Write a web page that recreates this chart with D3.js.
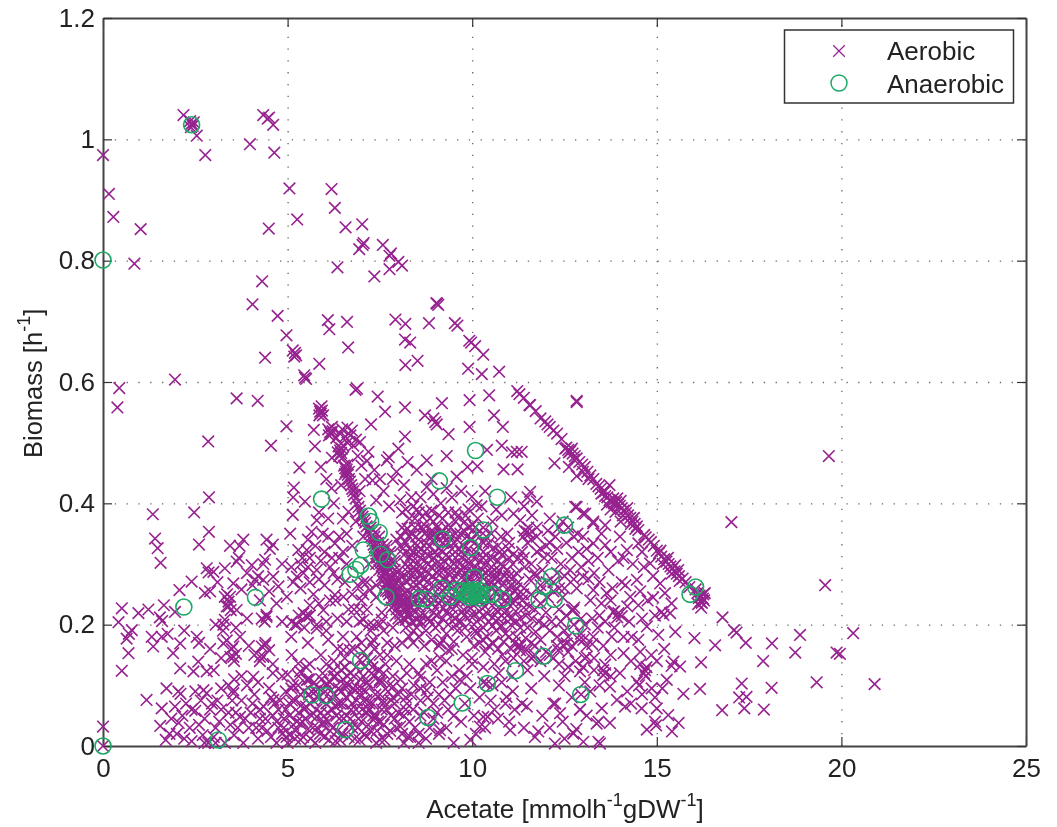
<!DOCTYPE html>
<html>
<head>
<meta charset="utf-8">
<script src="https://cdn.jsdelivr.net/npm/d3@7"></script>
<style>
  html, body { margin: 0; background: #fff; }
  svg { display: block; }
  text { font-family: "Liberation Sans", sans-serif; fill: #222; }
</style>
</head>
<body>
<div id="container"></div>
<script>
// values, [acetate, biomass]
const aerobicTop = [
  [2.18,1.04],[2.36,1.03],[2.4,1.026],[2.43,1.022],[2.46,1.028],[2.38,1.02],[2.54,1.006],[2.77,.974],[0,.974],[.16,.91],[.28,.872],
  [1.02,.852],[.85,.795],[3.98,.992],[4.34,1.04],[4.46,1.034],[4.5,1.036],[4.61,1.024],[4.64,.978],[5.05,.919],[5.26,.868],[4.49,.853],
  [6.19,.918],[6.28,.887],[6.57,.855],[7.02,.86],[7.06,.829],[7.03,.826],[6.94,.819],[7.58,.826],[7.8,.812],[7.76,.808],[8,.798],[8.1,.792],
  [7.76,.786],[7.35,.774],[6.35,.789],[4.31,.766],[4.05,.728],[4.73,.709],[4.97,.677],[5.14,.652],[5.2,.648],[5.23,.644],[5.18,.642],
  [4.39,.64],[6.09,.702],[6.13,.687],[6.61,.699],[6.64,.657],[5.86,.63],[5.45,.611],[5.47,.607],[5.5,.605],[7.92,.703],[8.19,.696],
  [8.18,.67],[8.32,.665],[8.19,.628],[8.52,.635],[8.83,.697],[9.03,.73],[9.05,.729],[9.08,.727],[9.53,.697],[9.6,.693],[9.92,.668],
  [9.97,.665],[10.08,.659],[10.3,.645],[9.89,.622],[10.26,.613],[10.73,.617],[1.95,.604]
];

const aerobicMiddle = [
  [.44,.59],[.39,.558],[3.62,.573],[4.19,.569],[6.84,.587],[6.88,.589],[7.44,.576],[7.64,.551],[8.18,.558],[4.97,.527],[2.85,.502],[4.55,.495],
  [5.71,.521],[5.74,.494],[5.32,.459],[5.17,.426],[5.15,.41],[5.47,.403],[5.14,.381],[2.87,.41],[1.35,.382],[2.47,.385],[1.41,.342],[1.48,.326],
  [1.56,.302],[2.87,.353],[2.6,.332],[3.44,.33],[3.8,.34],[3.7,.33],[4.43,.34],[4.6,.332],[4.52,.325],
  [8.72,.545],[9.18,.565],[9,.534],[8.95,.54],[9.04,.53],[9.36,.514],[9.93,.57],[10.46,.578],[11.28,.58],[11.57,.562],[12.83,.567],[10.59,.545],
  [10.83,.526],[9.93,.526],[7.26,.53],[8.18,.51],[8,.49],[9.31,.478],[7.69,.471],[7.74,.476],[8.77,.471],[10.8,.495],[10.4,.488],[11.21,.485],
  [11.08,.484],[11.34,.485],[9.87,.46],[10.14,.461],[10.85,.456],[11.23,.456],[12.23,.466],[12.83,.445],[6.96,.501],[7.19,.485],[6.74,.52],[8.5,.455],
  [8.77,.427],[8.9,.44],[9.58,.444],[9.31,.425],[9.99,.411],[10.12,.397],[11.57,.419],[11.5,.41],[11.75,.403],[12.83,.394],[13.06,.383],[13.28,.37],[13.6,.364],
  [11.12,.383],[11.3,.372],[11.48,.353],[5.9,.46],[6.2,.475],[6.05,.44],[6.45,.43],[7.1,.44],[7.35,.455],[7.6,.42],[7.85,.44],[8.15,.43],[8.35,.41],
  [6.95,.42],[6.25,.4],[5.85,.385],[6.1,.375],[7.4,.405],[7.75,.395],[8.05,.405],[8.5,.39],[8.75,.385],[9.15,.4],[9.55,.385],[9.8,.37],[10.35,.42],
  [10.65,.39],[10.95,.35],[11.75,.36],[12.1,.375],[12.45,.37],
  [6.32,.508],[6.4,.516],[6.48,.522],[6.56,.51],[6.62,.5],[6.7,.512],[6.78,.495],[6.5,.495],[6.62,.525],[6.85,.505],[6.9,.478],[7,.462],[7.15,.47],
  [7.3,.438],[7.5,.44],[7.95,.452],[8.25,.468],[8.6,.41],[8.95,.415],[9.45,.41],[9.7,.42],[9.9,.39],[10.25,.395],[10.55,.37],[10.8,.38],[11.05,.41],[11.4,.395],[11.62,.38]
];

const aerobicRidge = [
  [5.85,.556],[5.88,.551],[5.9,.548],[5.93,.553],[5.96,.545],[5.86,.545],[5.92,.56],[6.1,.522],[6.15,.517],[6.18,.514],[6.22,.519],[6.12,.512],[6.2,.526],[6.38,.494],[6.42,.487],[6.45,.483],[6.47,.49],
  [6.4,.478],[6.36,.484],[6.5,.476],[6.53,.462],[6.56,.458],[6.58,.452],[6.6,.456],[6.55,.448],[6.62,.464],[6.66,.452],[6.63,.447],[6.66,.44],[6.69,.436],[6.72,.43],[6.75,.424],[6.78,.42],[6.8,.414],[6.84,.408],[6.88,.4],
  [6.92,.394],[6.96,.388],[7,.382],[7.03,.378],[7.07,.372],[7.1,.368],[7.14,.362],[7.18,.355],[7.22,.35],[7.26,.345],[7.3,.338],[7.33,.332],[7.36,.328],
  [7.4,.322],[7.43,.318],[7.46,.312],[7.5,.307],[7.53,.302],[7.56,.298],[7.6,.292],[7.63,.287],[7.66,.283],[7.7,.278],[7.72,.272],[7.76,.268],[7.8,.262],
  [7.83,.258],[7.86,.252],[7.9,.248],[7.94,.242],[7.98,.238],[8.02,.232],[7.5,.32],[7.6,.31],[7.7,.295],[7.8,.28],[7.9,.265],[8,.25],[8.1,.24],[8.2,.23],
  [7.4,.3],[7.55,.28],[7.65,.265],[7.75,.25],[7.85,.24],[7.95,.225],[8.05,.218],[8.15,.225],[8.3,.24],[8.25,.255],[8.1,.265],[8,.275],[7.9,.29],[7.8,.305],
  [7.35,.345],[7.45,.335],[7.25,.36],[7.55,.315],[7.68,.3],[7.88,.272],[8.12,.25],[8.22,.242],[8.35,.228],[7.72,.255],[7.82,.228],[8,.21],
  [7.38,.352],[7.48,.345],[7.58,.332],[7.62,.322],[7.72,.312],[7.82,.296],[7.92,.282],[8.02,.264],[8.18,.252],[7.42,.31],[7.48,.29],[7.58,.272],[7.66,.256],[7.78,.24],[7.88,.232],[7.6,.3],[7.7,.285],
  [7.75,.27],[7.85,.265],[7.95,.255],[8.05,.245],[8.14,.236],[8.24,.225],[8.08,.23],[7.92,.215],[8.12,.21],[8.28,.215],[8.4,.235],[8.38,.25],[8.22,.27],[8.12,.28],[8.02,.29],[7.9,.305],[7.78,.32],[7.68,.33]
];

const aerobicDiagonal = [
  [11.22,.585],[11.4,.574],[11.55,.562],[11.72,.552],[11.85,.54],[11.98,.535],[12.04,.53],[12.1,.526],[12.2,.52],[12.3,.515],[12.42,.506],[12.55,.492],[12.6,.488],
  [12.66,.486],[12.72,.482],[12.78,.478],[12.83,.474],[12.9,.468],[12.98,.464],[13.05,.46],[13.12,.452],[13.2,.446],[13.28,.44],[13.36,.432],[13.42,.428],[13.48,.424],
  [13.55,.418],[13.6,.412],[13.66,.41],[13.72,.405],[13.78,.402],[13.84,.4],[13.9,.402],[13.95,.398],[14,.396],[14.05,.392],[14.1,.388],[14.16,.384],[14.22,.38],[14.28,.376],
  [14.34,.37],[14.4,.366],[14.46,.362],[14.78,.34],[14.84,.336],[14.92,.33],[15,.322],[15.06,.318],[15.12,.312],[15.2,.308],[15.26,.304],[15.32,.3],[15.37,.296],
  [15.42,.292],[15.48,.288],[15.54,.284],[15.6,.28],[15.7,.276],[15.78,.27],[15.88,.262],[16.1,.252],[16.16,.248],[16.2,.246],[16.25,.243],[16.28,.24],[16.3,.252],[16.22,.236],
  [16.14,.244],[16.2,.228],[12.62,.46],[13.72,.43],[14.02,.37],
  [12.52,.49],[12.62,.484],[12.7,.49],[12.76,.472],[13,.452],[13.15,.44],[13.5,.416],[13.6,.42],[13.65,.398],[13.75,.39],[13.82,.408],[13.88,.386],[13.93,.408],[14.02,.404],[14.08,.38],[14.2,.392],[14.3,.366],
  [14.38,.376],[14.42,.358],[14.5,.356],[14.66,.348],[14.7,.344],[15.1,.322],[15.16,.3],[15.3,.31],[15.4,.284],[15.5,.298],[15.58,.29],[15.62,.272],[16.05,.258],[16.18,.238],[16.26,.25],[16.12,.234]
];

const aerobicCore = [
  [8.2,.39],[8.45,.375],[8.7,.365],[8.95,.37],[9.2,.375],[9.42,.36],[9.68,.35],[9.9,.36],[10.15,.375],[8.1,.36],[8.35,.35],[8.55,.34],[8.8,.345],[9,.35],[9.25,.345],
  [9.5,.335],[9.75,.33],[10,.34],[10.2,.345],[10.45,.335],[10.7,.33],[7.95,.34],[8.2,.335],[8.4,.32],[8.62,.325],[8.85,.33],[9.1,.325],[9.3,.315],[9.55,.31],[9.8,.315],
  [10.05,.31],[10.3,.32],[10.55,.31],[10.8,.315],[8.3,.31],[8.5,.3],[8.7,.305],[8.95,.31],[9.15,.3],[9.4,.295],[9.65,.3],[9.88,.29],[10.1,.295],[10.35,.3],[10.6,.29],
  [10.85,.295],[11.1,.3],[8.4,.285],[8.6,.28],[8.8,.285],[9.05,.285],[9.25,.275],[9.5,.275],[9.75,.28],[10,.27],[10.25,.28],[10.5,.27],[10.75,.275],[11,.28],[11.25,.27],
  [8.5,.265],[8.72,.26],[8.95,.265],[9.2,.255],[9.45,.26],[9.7,.25],[9.9,.26],[10.2,.255],[10.4,.25],[10.65,.255],[10.9,.25],[11.15,.255],[11.4,.26],[8.4,.245],[8.65,.24],
  [8.88,.245],[9.1,.235],[9.35,.24],[9.6,.235],[9.85,.24],[10.1,.235],[10.35,.23],[10.6,.235],[10.85,.23],[11.1,.235],[11.35,.24],[11.6,.25],[8.25,.215],[8.45,.22],[8.7,.215],
  [8.95,.22],[9.2,.21],[9.45,.215],[9.7,.205],[9.95,.215],[10.2,.21],[10.45,.205],[10.7,.21],[10.95,.215],[11.2,.205],[11.45,.215],[11.7,.225],[8.2,.195],[8.5,.195],[8.75,.19],
  [9,.195],[9.3,.185],[9.6,.19],[9.85,.18],[10.1,.19],[10.4,.18],[10.65,.19],[10.9,.185],[11.2,.18],[11.5,.195],[11.8,.205],[12,.22],[8.4,.17],[8.7,.165],[9.1,.165],[9.45,.16],
  [9.75,.15],[10.05,.165],[10.35,.155],[10.7,.16],[11.05,.16],[11.3,.165],[11.6,.17],[11.85,.175],[12.1,.19],[12.4,.205],[8.1,.17],[8.9,.14],[9.3,.14],[9.65,.125],[10,.135],[10.3,.13],
  [10.6,.135],[10.9,.14],[11.4,.14],[11.7,.15],[12,.155],[12.3,.165],[12.6,.18],
  [11.5,.335],[11.75,.32],[12,.33],[12.25,.345],[12.55,.335],[12.15,.31],[11.9,.29],[11.6,.3],[12.4,.3],[12.7,.31],[11.35,.32],[11.55,.275],[11.85,.265],[12.2,.27],[12.5,.28],[12.75,.275],
  [12.05,.245],[12.45,.245],[12.35,.225],[11.85,.235],[12.55,.215],
  [12.79,.394],[13,.383],[13.28,.367],[12.88,.32],[13.28,.334],[13.6,.331],[14,.345],[14.5,.334],[14.19,.323],[14.82,.301],[13.69,.29],[13,.279],[12.83,.26],[13.28,.257],[13.64,.252],
  [14.28,.246],[14.46,.274],[15.09,.268],[15.22,.252],[12.7,.224],[12.76,.228],[13.96,.219],[13.85,.222],[14.05,.214],[13.93,.212],[15.13,.221],[15.18,.216],[15.36,.219],[14.5,.232],[14.73,.197],
  [15.04,.183],[15.5,.188],[13.78,.18],[14.32,.18],[13.28,.18],[12.47,.166],[13.25,.168],[14.1,.153],[13.6,.134],[14.68,.125],[14.72,.13],[14.65,.12],[14.7,.115],[15.45,.139],[15.4,.132],[15.63,.131],
  [15.27,.109],[14.46,.106],[14.52,.1],[13.55,.117],[12.92,.123],[13.73,.098],[14.86,.095],[13.92,.076],[14.14,.065],[13.51,.062],[12.92,.06],[12.95,.085],[14.59,.062],[15,.062],[15.31,.051],
  [15.59,.038],[14.95,.04],[14.98,.034],[14.73,.027],[13.73,.038],[13.42,.04],[15.41,.024],[12.74,.021],[12.82,.028],[13.01,.007],[13.42,.007],[13.3,.285],[13.95,.305],[14.65,.295],[14.05,.27],[13.45,.215],
  [14.25,.205],[14.75,.24],[15.4,.235],[13.05,.2],[13.55,.165],[14.55,.155],[13.05,.145],[14,.12],[15,.14],[13.2,.09],[14.3,.07],[12.5,.26],[12.6,.13],[12.2,.145],[12.35,.1],[11.95,.115],[11.6,.095],
  [12.25,.07],[11.9,.05],[11.35,.07],[11.1,.09],[10.8,.105],[10.5,.075],[10.2,.08],[9.95,.095],[9.55,.095],[9.2,.105],[8.85,.105],[8.55,.12],[8.3,.135],[9.35,.06],[9.7,.04],[10.05,.05],[10.35,.03],
  [10.7,.045],[11,.04],[11.4,.03],[11.7,.015],[12.1,.03],[12.45,.04],[12.5,.012],[10.1,.02],[9.95,.01],[9.1,.02],[8.6,.05],[8.2,.08]
];

// thick part of the central blob, second pass over the crop
const aerobicCoreDense = [
  [8.3,.375],[8.55,.385],[8.85,.375],[9.05,.36],[9.3,.36],[9.55,.37],[8.18,.355],[8.45,.36],[8.72,.35],[8.9,.355],[9.15,.35],[9.4,.345],[9.6,.34],[9.85,.345],[10.08,.36],[8.05,.33],[8.3,.325],[8.5,.33],
  [8.75,.335],[8.95,.34],[9.2,.335],[9.45,.325],[9.7,.32],[9.9,.325],[10.15,.33],[10.38,.345],[8.15,.315],[8.4,.305],[8.6,.31],[8.8,.315],[9.05,.315],[9.25,.305],[9.5,.3],[9.72,.31],[9.95,.3],[10.2,.305],
  [10.45,.31],[10.7,.305],[8.25,.295],[8.45,.29],[8.65,.295],[8.88,.295],[9.1,.29],[9.35,.285],[9.58,.285],[9.8,.295],[10.05,.285],[10.28,.29],[10.5,.285],[10.72,.29],[10.95,.29],[8.32,.275],[8.55,.27],
  [8.78,.27],[9,.275],[9.18,.265],[9.4,.27],[9.62,.265],[9.85,.27],[10.1,.265],[10.32,.265],[10.58,.265],[10.82,.265],[11.05,.265],[8.42,.26],[8.62,.255],[8.85,.255],[9.08,.25],[9.3,.25],[9.52,.245],
  [9.78,.245],[10,.245],[10.25,.24],[10.5,.24],[10.75,.245],[11,.245],[11.25,.25],[8.3,.232],[8.55,.23],[8.78,.23],[9,.228],[9.22,.228],[9.48,.225],[9.72,.222],[9.95,.228],[10.2,.222],[10.42,.218],[10.68,.222],
  [10.92,.222],[11.18,.222],[11.4,.228],[8.38,.205],[8.6,.205],[8.85,.205],[9.1,.2],[9.35,.2],[9.55,.2],[9.8,.195],[10.05,.2],[10.3,.195],[10.55,.198],[10.8,.198],[11.05,.2],[11.3,.195],[11.62,.21],
  [8.3,.18],[8.55,.18],[8.9,.175],[9.2,.175],[9.5,.172],[10.2,.17],[10.55,.17],[10.85,.172],[11.15,.17],[11.45,.178],[11.72,.188],[11.95,.2],[10.76,.197],[11,.18],[11.25,.165],[11.48,.158],[11.7,.165],[11.6,.145],
  [11.85,.14],[12.1,.15],[12.35,.135],[12.6,.155],[12.8,.14],[13,.13],[13.3,.125],[13.6,.12],[12.7,.165],[12.9,.175],[13.1,.165],[12.3,.18],[12.15,.205],[12.5,.19],[12.75,.2],[12.95,.21],[11.1,.315],[11.25,.31],
  [11.2,.285],[11.42,.295],[11.7,.285],[11.95,.31],[11.75,.345],[12.05,.355],[12.3,.325],[12.6,.36],[12.85,.35],[13.1,.325],[13.15,.305],[12.95,.295],[12.65,.29],[12.3,.285],[11.42,.355],[11.55,.35],[11.38,.345],
  [11.52,.36],[11.6,.34],[10.05,.285],[9.9,.275],[10.4,.27],[10.65,.28],[9.1,.34],[8.6,.36],[8.3,.345]
];

// third pass, gaps that were still too open next to the reference
const aerobicCoreExtra = [
  [8.1,.385],[8.4,.395],[8.65,.378],[8.9,.388],[9.1,.38],[9.35,.385],[9.6,.378],[9.82,.38],[10.02,.365],[10.3,.36],[10.52,.35],[10.78,.345],[11,.335],[8.08,.345],[8.25,.358],[8.48,.345],[8.68,.358],
  [8.92,.348],[9.18,.355],[9.35,.335],[9.55,.35],[9.78,.355],[9.95,.34],[10.12,.35],[10.3,.335],[10.55,.325],[10.75,.32],[10.98,.325],[8.12,.325],[8.35,.315],[8.55,.32],[8.78,.325],[8.98,.32],[9.2,.32],
  [9.38,.31],[9.62,.325],[9.85,.305],[10.1,.32],[10.3,.31],[10.52,.295],[10.78,.3],[11,.31],[8.2,.3],[8.42,.295],[8.62,.285],[8.82,.3],[9.02,.3],[9.22,.29],[9.45,.285],[9.7,.29],[9.92,.28],[10.15,.285],
  [10.38,.285],[10.62,.275],[10.88,.28],[11.08,.275],[8.28,.285],[8.48,.275],[8.7,.275],[8.92,.28],[9.12,.27],[9.35,.265],[9.55,.255],[9.8,.26],[10.02,.26],[10.28,.26],[10.52,.26],[10.72,.26],[10.98,.26],
  [11.2,.26],[8.45,.235],[8.7,.245],[8.92,.235],[9.15,.24],[9.4,.23],[9.65,.24],[9.9,.23],[10.15,.24],[10.4,.24],[10.65,.225],[10.9,.24],[11.15,.24],[11.38,.25],[8.32,.218],[8.6,.215],[8.82,.21],[9.05,.215],
  [9.3,.22],[9.55,.21],[9.78,.215],[10.05,.215],[10.3,.215],[10.55,.212],[10.8,.215],[11.05,.21],[11.3,.21],[11.55,.23],[8.2,.208],[8.5,.208],[8.41,.19],[9.13,.169],[9.35,.158],[9.13,.145],[9.99,.145],
  [10.57,.169],[10.12,.186],[11.3,.158],[11.66,.147],[12.33,.158],[12.56,.169],[13.01,.175],[13.1,.147],[12.74,.224],[13.82,.221],[13.55,.125],[10.28,.175],[10.45,.165],[10.82,.15],[11.12,.145],[11.5,.125],
  [10.72,.12],[11.08,.115],[10.55,.1],[10.3,.105],[9.85,.115],[9.45,.115],[9.05,.125],[8.75,.135],[8.6,.095],[8.23,.12],[8.59,.114],[8.77,.092],[9.67,.109],[10.39,.103],[10.93,.081],[10.3,.048],[10.21,.032],
  [11.03,.026],[11.79,.024],[11.48,.065],[12.2,.07],[12.38,.054],[12.92,.06],[13.37,.037],[12.74,.021],[13.46,.004],[12.24,.004],[11.15,.06],[10.9,.07],[10.6,.06],[10.42,.048],[9.8,.07],[9.5,.05],[9.25,.075],
  [11.85,.255],[12.2,.255],[12.35,.26],[12.02,.27],[11.72,.28],[11.4,.31],[11.85,.325],[12.1,.335],[12.35,.36],[12.75,.345],[13,.345],[13.4,.31],[13.5,.35],[13.75,.32],[14.1,.31],[14.35,.3],[14.6,.32],[14.9,.28],
  [13.15,.275],[13.45,.27],[13.8,.26],[14.15,.265],[14.55,.255],[14.9,.245],[13.2,.24],[13.5,.235],[13.75,.24],[14.2,.23],[14.6,.21],[14.95,.215],[13.25,.21],[13.6,.205],[13.85,.195],[14.1,.18],[14.5,.175],
  [12.95,.185],[13.4,.195],[13.75,.15],[14.3,.14],[14.55,.135],[14.85,.15],[15.2,.16],[13.3,.145],[13.45,.1],[13.75,.115],[14.2,.09],[14.6,.085],[14.95,.08],[15.15,.095],[13.05,.105],[12.7,.08],[12.5,.115],[13.1,.05]
];

const aerobicLeft = [
  [.51,.227],[.42,.204],[.96,.219],[1.23,.225],[1.54,.212],[1.6,.206],[1.65,.232],[1.95,.221],[2.07,.257],[2.4,.271],[2.76,.252],[2.81,.293],[2.86,.286],[2.99,.287],[3.3,.293],[3.62,.304],
  [3.68,.31],[4.03,.298],[4.39,.307],[4.34,.3],[3.3,.246],[3.36,.25],[3.44,.246],[3.4,.238],[3.35,.23],[3.46,.224],[3.62,.224],[3.53,.268],[4.12,.274],[4.2,.28],[4.34,.274],[4.61,.279],[4.75,.263],
  [4.98,.246],[4.43,.213],[4.3,.21],[4.38,.205],[5.11,.205],[5.2,.2],[5.43,.219],[5.5,.215],[5.79,.194],[5.97,.224],[5.25,.279],[5.52,.323],[5.79,.29],[5.43,.285],[5.6,.27],[5.29,.323],
  [5.07,.35],[5.65,.353],[5.79,.372],[6.28,.334],[6.6,.35],[6.65,.386],[6.19,.425],[6.28,.249],[6.51,.246],[7.23,.257],[6.87,.18],[7.28,.169],[6.69,.158],[7.32,.199],[6,.32],[6.4,.31],[6.15,.295],
  [6.6,.3],[5.4,.31],[5.75,.33],[5.1,.295],[4.85,.3],[4.7,.235],[6,.265],[6.35,.275],[6.75,.25],[7,.24],[7.15,.225],[6.65,.225],[6.35,.21],[6.95,.205],[7.55,.22],[7.6,.19],[7.85,.195],[7.5,.15],[7.95,.14],
  [6.5,.18],[6.1,.175],[5.55,.17],[.64,.177],[.78,.191],[.7,.185],[.69,.153],[.51,.124],[1.32,.18],[1.36,.164],[1.59,.18],[1.9,.153],[2.09,.169],[2.54,.18],[2.6,.17],[2.09,.128],[2.58,.139],
  [2.45,.123],[2.81,.123],[3.26,.169],[3.35,.174],[3.49,.16],[3.45,.147],[3.55,.14],[3.6,.152],[3.71,.18],[4.3,.164],[4.4,.17],[4.5,.158],[4.34,.147],[4.25,.14],[4.07,.114],[5.11,.15],
  [5.29,.136],[5.6,.135],[1.18,.076],[1.72,.095],[2.04,.09],[2.1,.086],[1.59,.062],[2.72,.092],[2.5,.09],[3.53,.087],[3.05,.2],[3.25,.19],[2.2,.19],[1.75,.185],[2.9,.16],[3,.125],[3.4,.1],[3.75,.115],
  [3.9,.285],[4.05,.265],[3.75,.258],[4.5,.255],[4.25,.24],[3.1,.27],[2.9,.255],[5.35,.26],[5.15,.27],[5.6,.31],[5.9,.305],[6.2,.31],[5.7,.25],[5.45,.195],[5.3,.215],[5.1,.18],[4.85,.205],[3.9,.21],[3.6,.195],[3.3,.208],
  [6.05,.205],[6.3,.24],[6.55,.27],[6.9,.265],[7.05,.27],[6.8,.225],[7,.17],[7.3,.13],[6.7,.12],[5.9,.15],[6.25,.14],[6.55,.13],[7.15,.145],[7.7,.17],[7.9,.165],[4.1,.15],[3.95,.165],[4.6,.135],[4.85,.115],[3.2,.145],
  [3.4,.23],[5.52,.213],[5.25,.2],[5.79,.2],[4.43,.216],[3.26,.2],[3.53,.164],[3.53,.147],[4.39,.166],[4.25,.147],[6.51,.158],[6.96,.142],[7.32,.175],[7.05,.208],[7.55,.208],[5.6,.232],[5.35,.3],[5.55,.295],[5.85,.275],
  [6.25,.285],[6.5,.32],[6.75,.33],[6.4,.345],[6.1,.345],[5.95,.35],[5.55,.34],[6.85,.37],[7.05,.345],[6.5,.375],[7.2,.3],[7.15,.27],[7.05,.25],[6.95,.225],[7.2,.2],[7.4,.245],[7.4,.265],[7.25,.19],[6.6,.205],[6.15,.24],
  [5.85,.235],[5.6,.215],[6.05,.19],[6.35,.16],[6.8,.16],[7.05,.155],[7.5,.2],[7.7,.15],[7.35,.16]
];

const aerobicBottom = [
  [0,.032],[0,0],[1.55,.033],[1.8,.02],[1.85,.045],[2.05,.038],[2.2,.012],[2.35,.03],[2.5,.058],[2.7,.018],[2.75,.045],[2.95,.07],[3.05,.03],[3.2,.06],[3.3,.005],[3.45,.035],
  [3.55,.018],[3.6,.055],[3.75,.075],[3.8,.005],[3.95,.03],[4,.055],[4.1,.085],[4.2,.012],[4.25,.045],[4.35,.065],[4.45,.025],[4.5,.095],[4.6,.05],[4.7,.005],[4.75,.03],[4.8,.075],
  [4.9,.045],[4.95,.06],[5.05,.018],[5.1,.095],[5.15,.035],[5.2,.075],[5.3,.055],[5.35,.01],[5.4,.04],[5.45,.09],[5.5,.065],[5.55,.028],[5.6,.11],[5.65,.05],[5.7,.075],[5.75,.005],
  [5.8,.03],[5.85,.095],[5.9,.055],[5.95,.12],[6,.015],[6.05,.07],[6.1,.04],[6.15,.105],[6.2,.06],[6.25,.085],[6.3,.008],[6.35,.025],[6.4,.045],[6.45,.125],[6.5,.07],[6.55,.1],[6.6,.05],
  [6.65,.015],[6.7,.085],[6.75,.03],[6.8,.115],[6.85,.06],[6.9,.095],[6.95,.01],[7,.04],[7.05,.075],[7.1,.13],[7.15,.055],[7.2,.1],[7.25,.025],[7.3,.07],[7.35,.115],[7.4,.005],[7.45,.04],
  [7.5,.085],[7.55,.06],[7.6,.12],[7.7,.02],[7.75,.1],[7.8,.05],[7.9,.07],[7.95,.03],[8.05,.11],[8.15,.05],[8.25,.015],[8.35,.085],[8.45,.03],[8.6,.075],[8.75,.012],[8.95,.07],[8.95,.045],
  [9.1,.085],[9.3,.03],[9.5,.005],[4.2,.105],[4.6,.12],[5,.118],[5.3,.115],[5.5,.13],[6.05,.135],[6.55,.145],[3,.015],[3.15,.04],[2.85,.005],[2.65,.075],[2.25,.07],[2.4,.008],[1.95,.065],[3.5,.075]
];

// packed lower cluster, second pass over the crop
const aerobicBottomDense = [
  [4.3,.03],[4.55,.015],[4.65,.07],[4.85,.02],[4.95,.09],[5.05,.05],[5.12,.075],[5.22,.025],[5.28,.1],[5.38,.068],[5.42,.015],[5.5,.045],[5.58,.085],[5.62,.012],[5.68,.03],[5.72,.105],[5.78,.06],
  [5.82,.08],[5.88,.02],[5.92,.11],[5.98,.04],[6.02,.09],[6.08,.055],[6.12,.01],[6.17,.075],[6.22,.03],[6.28,.115],[6.32,.05],[6.38,.095],[6.42,.07],[6.48,.02],[6.52,.045],[6.58,.08],[6.62,.115],
  [6.68,.035],[6.72,.06],[6.78,.095],[6.82,.012],[6.88,.075],[6.92,.045],[6.98,.11],[7.02,.06],[7.08,.02],[7.12,.09],[7.18,.035],[7.22,.07],[7.28,.12],[7.32,.05],[7.38,.085],[7.42,.025],[7.48,.105],
  [7.52,.04],[7.58,.075],[7.62,.01],[7.68,.06],[7.72,.09],[7.78,.025],[7.85,.115],[7.9,.045],[8,.085],[8.1,.02],[8.2,.06],[8.3,.04],[8.42,.1],[8.55,.02],[8.7,.055],[8.85,.03],[5.95,.075],[6.05,.1],
  [6.15,.025],[6.25,.125],[6.35,.07],[6.45,.09],[6.55,.13],[6.65,.1],[6.75,.07],[6.85,.13],[6.95,.085],[7.05,.115],[7.15,.105],[7.25,.14],[7.45,.125],[7.55,.105],[7.65,.135],[7.85,.08],[8.1,.095],[5.65,.09],
  [5.55,.11],[5.45,.06],[5.35,.085],[5.25,.04],[5.15,.1],[5.05,.07],[4.9,.03],[4.75,.06],[4.55,.08],[4.4,.045],[4.15,.03],[4.05,.07],[3.85,.045],[3.65,.03],[3.4,.055],[3.1,.075],[2.6,.035],[2.15,.05],[2,.02],
  [5.34,.123],[6.24,.114],[6.6,.103],[6.06,.103],[5.52,.109],[7.5,.109],[7.86,.098],[7.59,.07],[7.14,.076],[8.23,.07],[5.34,.037],[5.79,.048],[3.71,.048],[4.25,.06],[4.61,.076],[2.81,.087],[3.53,.092],[2.9,.06],
  [4.97,.015],[6.42,.01],[7.32,.043],[8.32,.015],[9.13,.026],[8.05,.032],[7.5,.01],[7.14,.015],[4.7,.04],[5,.005],[5.2,.012],[5.6,.07],[5.75,.09],[5.95,.035],[6.18,.092],[6.3,.065],[6.5,.11],[6.7,.045],[6.9,.03],
  [7,.095],[7.2,.06],[7.4,.05],[7.6,.035],[7.8,.075],[8,.055],[8.4,.06],[8.8,.08],[9.4,.085],[9.05,.055],[8.15,.005],[8.55,.005],[3.9,.1],[3.55,.11],[3.2,.095],[2.4,.06],[2.75,.005],[1.7,.01],[3.05,.005]
];

const aerobicTail = [
  [12.83,.569],[19.66,.478],[17.02,.369],[19.56,.265],[16.78,.212],[17.09,.191],[17.16,.187],[17.41,.17],[18.12,.169],[18.88,.183],[20.32,.186],[18.75,.154],[19.87,.154],[19.96,.152],[16.02,.178],
  [16.58,.166],[16.2,.138],[17.88,.14],[16.17,.094],[15.72,.086],[17.3,.103],[18.11,.096],[19.33,.105],[20.9,.102],[17.23,.08],[17.43,.081],[17.37,.062],[16.77,.059],[17.9,.06]
];

const anaerobic = [
  [2.4,1.024],[0,.801],[0,0],[3.12,.01],[2.19,.229],[4.13,.245],[5.92,.407],[7.19,.379],[7.25,.37],[7.48,.352],[7.05,.323],[7.52,.316],[7.71,.307],[6.98,.298],[6.85,.291],[6.69,.283],[7.67,.246],
  [6.98,.141],[5.66,.084],[6.04,.083],[6.56,.027],[10.09,.487],[9.11,.437],[10.68,.41],[12.5,.364],[10.31,.356],[9.19,.341],[9.96,.327],[10.06,.278],[12.15,.279],[11.94,.263],[11.81,.241],[12.22,.242],
  [9.17,.26],[9.58,.257],[9.4,.246],[8.57,.243],[8.75,.242],[9.72,.254],[9.85,.25],[9.99,.25],[10.12,.249],[10.26,.25],[10.39,.249],[10.57,.25],[10.82,.242],[9.78,.256],[9.92,.245],[10.05,.258],[10.2,.244],
  [9.88,.253],[9.95,.256],[10.02,.248],[10.08,.254],[10.15,.252],[10.22,.256],[12.8,.198],[11.93,.148],[11.17,.124],[10.41,.103],[9.73,.071],[8.8,.047],[12.94,.085],[16.05,.262],[15.9,.25]
];

const aerobic = [...aerobicTop, ...aerobicMiddle, ...aerobicRidge, ...aerobicDiagonal, ...aerobicCore, ...aerobicCoreDense, ...aerobicCoreExtra, ...aerobicLeft, ...aerobicBottom, ...aerobicBottomDense, ...aerobicTail];

const xTicks = [0, 5, 10, 15, 20, 25];
const yTicks = [0, .2, .4, .6, .8, 1, 1.2];
const yTickLabels = ["0", "0.2", "0.4", "0.6", "0.8", "1", "1.2"];
const legendLabels = ["Aerobic", "Anaerobic"];

const w = 1057;
const h = 827;
const left = 103;
const right = 1026;
const top_ = 18;
const bottom = 746;
const purple = "#96228f";
const green = "#1fa866";
const axisColor = "#444";
const crossPath = "M-5.8,-5.8L5.8,5.8M-5.8,5.8L5.8,-5.8";

const svg = d3.select("#container")
  .append("svg")
  .attr("width", w)
  .attr("height", h);

// the reference is a slightly soft scan
svg.append("defs")
  .append("filter")
  .attr("id", "soft")
  .append("feGaussianBlur")
  .attr("stdDeviation", 0.35);

const chart = svg.append("g").attr("filter", "url(#soft)");

const x = d3.scaleLinear().domain([0, 25]).range([left, right]);
const y = d3.scaleLinear().domain([0, 1.2]).range([bottom, top_]);

// dotted grid
const styleGrid = (g) => {
  g.select(".domain").remove();
  g.selectAll("text").remove();
  g.selectAll("line")
    .attr("stroke", "#666")
    .attr("stroke-width", 1.3)
    .attr("stroke-dasharray", "1.3 10.5");
};

chart.append("g")
  .attr("transform", `translate(0,${bottom})`)
  .call(d3.axisBottom(x).tickValues(xTicks.slice(1, -1)).tickSize(-(bottom - top_)))
  .call(styleGrid);

chart.append("g")
  .attr("transform", `translate(${left},0)`)
  .call(d3.axisLeft(y).tickValues(yTicks.slice(1, -1)).tickSize(-(right - left)))
  .call(styleGrid);

// frame and tick marks, ticks point inwards on all four sides
const styleAxis = (g) => {
  g.select(".domain").attr("stroke", axisColor).attr("stroke-width", 2);
  g.selectAll(".tick line").attr("stroke", "#333").attr("stroke-width", 1.2);
  g.selectAll("text").attr("font-size", 26).attr("fill", "#222").attr("font-family", "Liberation Sans");
};

chart.append("g")
  .attr("transform", `translate(0,${bottom})`)
  .call(d3.axisBottom(x).tickValues(xTicks).tickSizeInner(-9).tickSizeOuter(0).tickPadding(13).tickFormat(d3.format("d")))
  .call(styleAxis);

chart.append("g")
  .attr("transform", `translate(0,${top_})`)
  .call(d3.axisTop(x).tickValues(xTicks).tickSizeInner(-9).tickSizeOuter(0).tickFormat(""))
  .call(styleAxis);

chart.append("g")
  .attr("transform", `translate(${left},0)`)
  .call(d3.axisLeft(y).tickValues(yTicks).tickSizeInner(-9).tickSizeOuter(0).tickPadding(8).tickFormat((d, i) => yTickLabels[i]))
  .call(styleAxis);

chart.append("g")
  .attr("transform", `translate(${right},0)`)
  .call(d3.axisRight(y).tickValues(yTicks).tickSizeInner(-9).tickSizeOuter(0).tickFormat(""))
  .call(styleAxis);

chart.append("g")
  .selectAll("path")
  .data(aerobic)
  .enter()
  .append("path")
  .attr("d", crossPath)
  .attr("transform", (d) => `translate(${x(d[0])},${y(d[1])})`)
  .attr("fill", "none")
  .attr("stroke", purple)
  .attr("stroke-width", 1.6);

chart.append("g")
  .selectAll("circle")
  .data(anaerobic)
  .enter()
  .append("circle")
  .attr("cx", (d) => x(d[0]))
  .attr("cy", (d) => y(d[1]))
  .attr("r", 8)
  .attr("fill", "none")
  .attr("stroke", green)
  .attr("stroke-width", 1.6);

// axis titles
const xTitle = chart.append("text")
  .attr("x", 565)
  .attr("y", 818)
  .attr("text-anchor", "middle")
  .attr("font-size", 26);
xTitle.append("tspan").text("Acetate [mmolh");
xTitle.append("tspan").attr("dy", -12).attr("font-size", 18).text("-1");
xTitle.append("tspan").attr("dy", 12).text("gDW");
xTitle.append("tspan").attr("dy", -12).attr("font-size", 18).text("-1");
xTitle.append("tspan").attr("dy", 12).text("]");

const yTitle = chart.append("text")
  .attr("transform", "translate(42,458) rotate(-90)")
  .attr("font-size", 25.5);
yTitle.append("tspan").text("Biomass [h");
yTitle.append("tspan").attr("dy", -12).attr("font-size", 18).text("-1");
yTitle.append("tspan").attr("dy", 12).text("]");

// legend
const legend = chart.append("g");
legend.append("rect")
  .attr("x", 784.5)
  .attr("y", 30)
  .attr("width", 229)
  .attr("height", 73)
  .attr("fill", "#fff")
  .attr("stroke", "#333")
  .attr("stroke-width", 1.5);
legend.append("path")
  .attr("d", crossPath)
  .attr("transform", "translate(839,51)")
  .attr("fill", "none")
  .attr("stroke", purple)
  .attr("stroke-width", 1.25);
legend.append("circle")
  .attr("cx", 839)
  .attr("cy", 83)
  .attr("r", 8)
  .attr("fill", "none")
  .attr("stroke", green)
  .attr("stroke-width", 1.5);
legend.selectAll("text")
  .data(legendLabels)
  .enter()
  .append("text")
  .attr("x", 887)
  .attr("y", (d, i) => 60 + i * 32.5)
  .attr("font-size", 26)
  .text((d) => d);
</script>
</body>
</html>
